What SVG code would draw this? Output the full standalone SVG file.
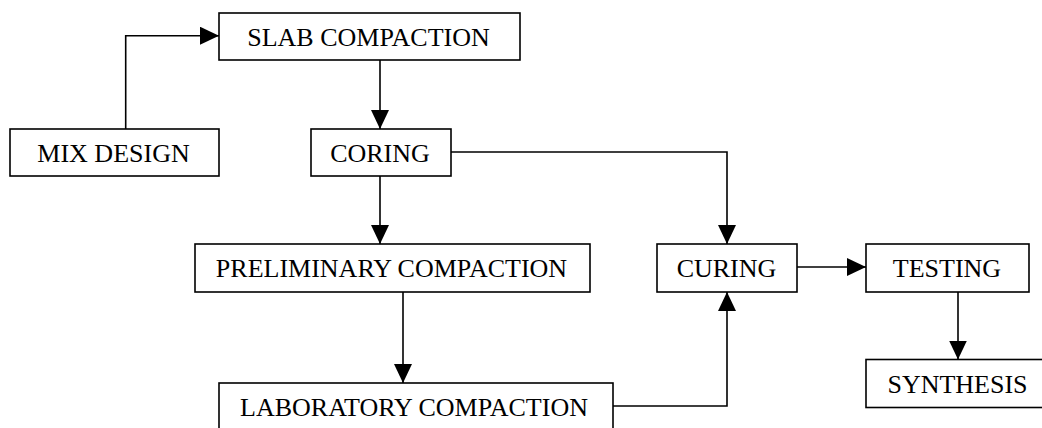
<svg xmlns="http://www.w3.org/2000/svg" width="1042" height="428" viewBox="0 0 1042 428">
  <defs>
    <style>
      .box { fill: #fff; stroke: #000; stroke-width: 1.6; }
      .lbl { font-family: "Liberation Serif", "Times New Roman", serif; font-size: 26px; fill: #000; text-anchor: middle; }
      .conn { fill: none; stroke: #000; stroke-width: 1.6; }
    </style>
    <marker id="arrow" markerUnits="userSpaceOnUse" markerWidth="20" markerHeight="18" refX="19" refY="9" orient="auto">
      <path d="M0,0 L19,9 L0,18 Z" fill="#000"/>
    </marker>
  </defs>
  <rect width="1042" height="428" fill="#fff"/>

  <g id="connectors">
    <path class="conn" d="M125.7,129 V35.7 H219" marker-end="url(#arrow)"/>
    <path class="conn" d="M380,60 V129" marker-end="url(#arrow)"/>
    <path class="conn" d="M451,152 H727 V244" marker-end="url(#arrow)"/>
    <path class="conn" d="M380,176 V244" marker-end="url(#arrow)"/>
    <path class="conn" d="M403,292 V383" marker-end="url(#arrow)"/>
    <path class="conn" d="M613,406 H727 V292" marker-end="url(#arrow)"/>
    <path class="conn" d="M797,267 H866" marker-end="url(#arrow)"/>
    <path class="conn" d="M958,292 V359.5" marker-end="url(#arrow)"/>
  </g>

  <g id="slab-compaction">
    <rect class="box" x="219" y="13" width="301" height="47"/>
    <text class="lbl" x="368.5" y="46">SLAB COMPACTION</text>
  </g>
  <g id="mix-design">
    <rect class="box" x="10" y="129" width="209" height="47"/>
    <text class="lbl" x="113.5" y="162">MIX DESIGN</text>
  </g>
  <g id="coring">
    <rect class="box" x="311" y="129" width="140" height="47"/>
    <text class="lbl" x="380" y="162">CORING</text>
  </g>
  <g id="preliminary-compaction">
    <rect class="box" x="195" y="244" width="395" height="48"/>
    <text class="lbl" x="391.5" y="277">PRELIMINARY COMPACTION</text>
  </g>
  <g id="laboratory-compaction">
    <rect class="box" x="219" y="383" width="394" height="48"/>
    <text class="lbl" x="414" y="416">LABORATORY COMPACTION</text>
  </g>
  <g id="curing">
    <rect class="box" x="657" y="244" width="140" height="48"/>
    <text class="lbl" x="726.5" y="277">CURING</text>
  </g>
  <g id="testing">
    <rect class="box" x="866" y="244" width="163" height="48"/>
    <text class="lbl" x="947" y="277">TESTING</text>
  </g>
  <g id="synthesis">
    <rect class="box" x="866" y="359.5" width="184" height="48"/>
    <text class="lbl" x="957.5" y="392.5">SYNTHESIS</text>
  </g>
</svg>
